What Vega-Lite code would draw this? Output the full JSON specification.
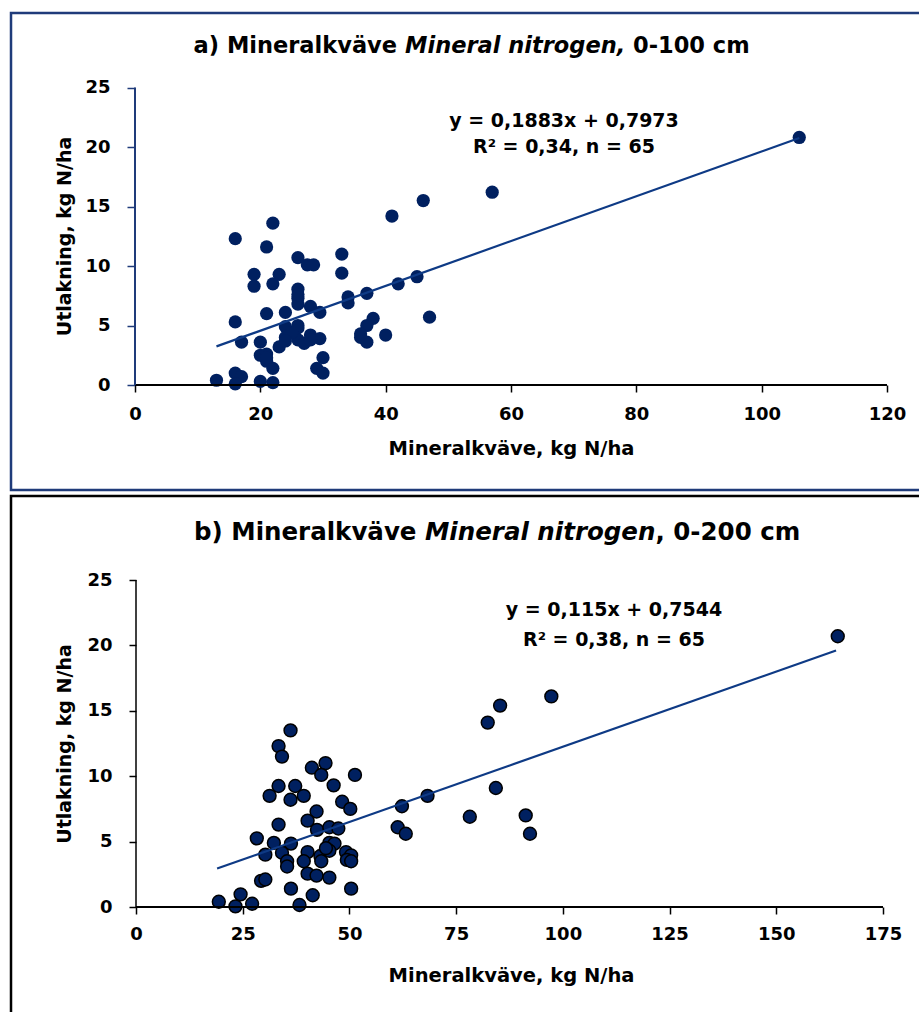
{
  "$schema": "https://vega.github.io/schema/vega-lite/v6.json",
  "background": "white",
  "padding": {"left": 9, "top": 11, "right": 0, "bottom": 0},
  "spacing": 2,
  "config": {
    "font": "DejaVu Sans",
    "axis": {"grid": false, "labelFont": "DejaVu Sans", "labelFontWeight": "bold", "labelColor": "#000000", "titleFont": "DejaVu Sans", "titleFontWeight": "bold", "titleColor": "#000000", "labelFlush": false, "labelOverlap": false}
  },
  "datasets": {
    "pa": [
      {"x": 106, "y": 20.8}, {"x": 57, "y": 16.2}, {"x": 46, "y": 15.5}, {"x": 41, "y": 14.2}, {"x": 22, "y": 13.6},
      {"x": 16, "y": 12.3}, {"x": 21, "y": 11.6}, {"x": 33, "y": 11.0}, {"x": 26, "y": 10.7}, {"x": 27.5, "y": 10.1},
      {"x": 28.5, "y": 10.1}, {"x": 19, "y": 9.3}, {"x": 23, "y": 9.3}, {"x": 33, "y": 9.4}, {"x": 45, "y": 9.1},
      {"x": 19, "y": 8.3}, {"x": 22, "y": 8.5}, {"x": 42, "y": 8.5}, {"x": 26, "y": 8.05}, {"x": 37, "y": 7.7},
      {"x": 34, "y": 7.4}, {"x": 26, "y": 7.3}, {"x": 34, "y": 6.9}, {"x": 26, "y": 6.8}, {"x": 28, "y": 6.6},
      {"x": 29.5, "y": 6.1}, {"x": 21, "y": 6.0}, {"x": 24, "y": 6.1}, {"x": 38, "y": 5.6}, {"x": 47, "y": 5.7},
      {"x": 16, "y": 5.3}, {"x": 24, "y": 4.9}, {"x": 26, "y": 4.8}, {"x": 37, "y": 5.0}, {"x": 36, "y": 4.0},
      {"x": 37, "y": 3.6}, {"x": 40, "y": 4.2}, {"x": 28, "y": 4.2}, {"x": 29.5, "y": 3.9}, {"x": 24, "y": 4.0},
      {"x": 26, "y": 3.8}, {"x": 27, "y": 3.5}, {"x": 23, "y": 3.2}, {"x": 17, "y": 3.6}, {"x": 20, "y": 3.6},
      {"x": 20, "y": 2.5}, {"x": 21, "y": 2.6}, {"x": 21, "y": 2.0}, {"x": 22, "y": 1.4}, {"x": 30, "y": 2.3},
      {"x": 29, "y": 1.4}, {"x": 30, "y": 1.0}, {"x": 16, "y": 1.0}, {"x": 17, "y": 0.7}, {"x": 13, "y": 0.4},
      {"x": 16, "y": 0.1}, {"x": 20, "y": 0.3}, {"x": 22, "y": 0.2}, {"x": 26, "y": 5.0}, {"x": 25, "y": 4.4},
      {"x": 28, "y": 3.8}, {"x": 36, "y": 4.3}, {"x": 26, "y": 7.6}, {"x": 21, "y": 2.3}, {"x": 24, "y": 3.7}
    ],
    "pb": [
      {"x": 36.2, "y": 13.5}, {"x": 33.4, "y": 12.3}, {"x": 34.2, "y": 11.5}, {"x": 41.2, "y": 10.65}, {"x": 44.4, "y": 11.0},
      {"x": 43.4, "y": 10.1}, {"x": 51.3, "y": 10.1}, {"x": 46.3, "y": 9.3}, {"x": 33.4, "y": 9.25}, {"x": 37.3, "y": 9.25},
      {"x": 31.3, "y": 8.5}, {"x": 36.2, "y": 8.2}, {"x": 39.3, "y": 8.5}, {"x": 48.3, "y": 8.05}, {"x": 50.2, "y": 7.5},
      {"x": 42.3, "y": 7.3}, {"x": 40.2, "y": 6.6}, {"x": 33.4, "y": 6.3}, {"x": 42.4, "y": 5.9}, {"x": 45.3, "y": 6.1},
      {"x": 47.4, "y": 6.0}, {"x": 28.3, "y": 5.25}, {"x": 32.3, "y": 4.9}, {"x": 36.3, "y": 4.85}, {"x": 45.3, "y": 4.9},
      {"x": 46.5, "y": 4.85}, {"x": 30.3, "y": 4.0}, {"x": 34.2, "y": 4.15}, {"x": 35.4, "y": 3.5}, {"x": 35.4, "y": 3.1},
      {"x": 40.2, "y": 4.2}, {"x": 39.3, "y": 3.5}, {"x": 43.2, "y": 3.9}, {"x": 43.4, "y": 3.5}, {"x": 45.3, "y": 4.3},
      {"x": 49.2, "y": 4.2}, {"x": 50.4, "y": 3.95}, {"x": 49.4, "y": 3.6}, {"x": 50.4, "y": 3.5}, {"x": 29.3, "y": 2.0},
      {"x": 30.3, "y": 2.1}, {"x": 40.2, "y": 2.55}, {"x": 42.3, "y": 2.4}, {"x": 45.3, "y": 2.25}, {"x": 36.3, "y": 1.4},
      {"x": 41.4, "y": 0.9}, {"x": 50.4, "y": 1.4}, {"x": 19.4, "y": 0.4}, {"x": 24.5, "y": 0.97}, {"x": 23.3, "y": 0.05},
      {"x": 27.2, "y": 0.25}, {"x": 38.3, "y": 0.15}, {"x": 164.4, "y": 20.7}, {"x": 97.3, "y": 16.1}, {"x": 85.3, "y": 15.4},
      {"x": 82.4, "y": 14.1}, {"x": 68.3, "y": 8.5}, {"x": 62.3, "y": 7.7}, {"x": 84.3, "y": 9.1}, {"x": 78.2, "y": 6.9},
      {"x": 91.3, "y": 7.0}, {"x": 92.3, "y": 5.6}, {"x": 61.3, "y": 6.1}, {"x": 63.2, "y": 5.6}, {"x": 44.5, "y": 4.5}
    ],
    "la": [{"x": 13, "y": 3.245}, {"x": 106, "y": 20.757}],
    "lb": [{"x": 19, "y": 2.939}, {"x": 164, "y": 19.614}]
  },
  "vconcat": [
    {
      "width": 920,
      "height": 477,
      "view": {"stroke": "#1F3B7A", "strokeWidth": 2.5},
      "layer": [
        {
          "data": {"name": "pa"},
          "mark": {"type": "point", "filled": true, "shape": "circle", "size": 175, "color": "#002060", "opacity": 1},
          "encoding": {
            "x": {"field": "x", "type": "quantitative", "scale": {"domain": [-19.787, 127.022], "nice": false, "zero": false},
              "axis": {"values": [0, 20, 40, 60, 80, 100, 120], "domain": false, "offset": -105, "tickColor": "#000000", "tickSize": 7, "tickWidth": 1.5, "labelPadding": 13, "labelFontSize": 18, "title": "Mineralkväve, kg N/ha", "titleFontSize": 19.5, "titleX": 500, "titleY": 63, "titleBaseline": "middle", "titleAlign": "center"}},
            "y": {"field": "y", "type": "quantitative", "scale": {"domain": [-8.8235, 31.2605], "nice": false, "zero": false},
              "axis": {"values": [0, 5, 10, 15, 20, 25], "domain": false, "offset": -124, "tickColor": "#1F3B7A", "tickSize": 8, "tickWidth": 1.5, "labelPadding": 17, "labelFontSize": 18, "title": "Utlakning, kg N/ha", "titleFontSize": 19, "titleX": -71, "titleY": 223, "titleAngle": -90, "titleBaseline": "middle", "titleAlign": "center"}}
          }
        },
        {
          "data": {"values": [{}]},
          "mark": {"type": "rule", "color": "#000000", "strokeWidth": 2},
          "encoding": {
            "x": {"datum": 0, "type": "quantitative", "scale": {"domain": [-19.787, 127.022], "nice": false, "zero": false}},
            "x2": {"datum": 120},
            "y": {"datum": 0, "type": "quantitative", "scale": {"domain": [-8.8235, 31.2605], "nice": false, "zero": false}}
          }
        },
        {
          "data": {"values": [{}]},
          "mark": {"type": "rule", "color": "#1F3B7A", "strokeWidth": 2},
          "encoding": {
            "x": {"datum": 0, "type": "quantitative", "scale": {"domain": [-19.787, 127.022], "nice": false, "zero": false}},
            "y": {"datum": 0, "type": "quantitative", "scale": {"domain": [-8.8235, 31.2605], "nice": false, "zero": false}},
            "y2": {"datum": 25}
          }
        },
        {
          "data": {"name": "la"},
          "mark": {"type": "line", "color": "#0E3A85", "strokeWidth": 2.2},
          "encoding": {
            "x": {"field": "x", "type": "quantitative", "scale": {"domain": [-19.787, 127.022], "nice": false, "zero": false}},
            "y": {"field": "y", "type": "quantitative", "scale": {"domain": [-8.8235, 31.2605], "nice": false, "zero": false}}
          }
        },
        {
          "data": {"values": [{}]},
          "mark": {"type": "text", "text": "a) Mineralkväve", "align": "right", "baseline": "middle", "fontSize": 22.5, "fontWeight": "bold", "color": "#000000"},
          "encoding": {
            "x": {"datum": 41.81, "type": "quantitative", "scale": {"domain": [-19.787, 127.022], "nice": false, "zero": false}},
            "y": {"datum": 28.49, "type": "quantitative", "scale": {"domain": [-8.8235, 31.2605], "nice": false, "zero": false}}
          }
        },
        {
          "data": {"values": [{}]},
          "mark": {"type": "text", "text": "Mineral nitrogen,", "align": "left", "baseline": "middle", "fontSize": 22.5, "fontWeight": "bold", "fontStyle": "italic", "color": "#000000"},
          "encoding": {
            "x": {"datum": 43.09, "type": "quantitative", "scale": {"domain": [-19.787, 127.022], "nice": false, "zero": false}},
            "y": {"datum": 28.49, "type": "quantitative", "scale": {"domain": [-8.8235, 31.2605], "nice": false, "zero": false}}
          }
        },
        {
          "data": {"values": [{}]},
          "mark": {"type": "text", "text": "0-100 cm", "align": "left", "baseline": "middle", "fontSize": 22.5, "fontWeight": "bold", "color": "#000000"},
          "encoding": {
            "x": {"datum": 79.47, "type": "quantitative", "scale": {"domain": [-19.787, 127.022], "nice": false, "zero": false}},
            "y": {"datum": 28.49, "type": "quantitative", "scale": {"domain": [-8.8235, 31.2605], "nice": false, "zero": false}}
          }
        },
        {
          "data": {"values": [{}]},
          "mark": {"type": "text", "text": "y = 0,1883x + 0,7973", "align": "center", "baseline": "middle", "fontSize": 19, "fontWeight": "bold", "color": "#000000"},
          "encoding": {
            "x": {"datum": 68.46, "type": "quantitative", "scale": {"domain": [-19.787, 127.022], "nice": false, "zero": false}},
            "y": {"datum": 22.18, "type": "quantitative", "scale": {"domain": [-8.8235, 31.2605], "nice": false, "zero": false}}
          }
        },
        {
          "data": {"values": [{}]},
          "mark": {"type": "text", "text": "R² = 0,34, n = 65", "align": "center", "baseline": "middle", "fontSize": 19, "fontWeight": "bold", "color": "#000000"},
          "encoding": {
            "x": {"datum": 68.46, "type": "quantitative", "scale": {"domain": [-19.787, 127.022], "nice": false, "zero": false}},
            "y": {"datum": 20.0, "type": "quantitative", "scale": {"domain": [-8.8235, 31.2605], "nice": false, "zero": false}}
          }
        }
      ]
    },
    {
      "width": 920,
      "height": 540,
      "view": {"stroke": "#000000", "strokeWidth": 2.5},
      "layer": [
        {
          "data": {"name": "pb"},
          "mark": {"type": "point", "filled": true, "shape": "circle", "size": 165, "fill": "#002060", "stroke": "#000000", "strokeWidth": 1.5, "opacity": 1, "fillOpacity": 1, "strokeOpacity": 1},
          "encoding": {
            "x": {"field": "x", "type": "quantitative", "scale": {"domain": [-29.284, 186.245], "nice": false, "zero": false},
              "axis": {"values": [0, 25, 50, 75, 100, 125, 150, 175], "domain": false, "offset": -129, "tickColor": "#000000", "tickSize": 7, "tickWidth": 1.5, "labelPadding": 11, "labelFontSize": 18, "title": "Mineralkväve, kg N/ha", "titleFontSize": 19.5, "titleX": 500, "titleY": 68, "titleBaseline": "middle", "titleAlign": "center"}},
            "y": {"field": "y", "type": "quantitative", "scale": {"domain": [-9.862, 31.422], "nice": false, "zero": false},
              "axis": {"values": [0, 5, 10, 15, 20, 25], "domain": false, "offset": -125, "tickColor": "#000000", "tickSize": 7, "tickWidth": 1.5, "labelPadding": 17, "labelFontSize": 18, "title": "Utlakning, kg N/ha", "titleFontSize": 19, "titleX": -72, "titleY": 247.5, "titleAngle": -90, "titleBaseline": "middle", "titleAlign": "center"}}
          }
        },
        {
          "data": {"values": [{}]},
          "mark": {"type": "rule", "color": "#000000", "strokeWidth": 2},
          "encoding": {
            "x": {"datum": 0, "type": "quantitative", "scale": {"domain": [-29.284, 186.245], "nice": false, "zero": false}},
            "x2": {"datum": 175},
            "y": {"datum": 0, "type": "quantitative", "scale": {"domain": [-9.862, 31.422], "nice": false, "zero": false}}
          }
        },
        {
          "data": {"values": [{}]},
          "mark": {"type": "rule", "color": "#000000", "strokeWidth": 1.5},
          "encoding": {
            "x": {"datum": 0, "type": "quantitative", "scale": {"domain": [-29.284, 186.245], "nice": false, "zero": false}},
            "y": {"datum": 0, "type": "quantitative", "scale": {"domain": [-9.862, 31.422], "nice": false, "zero": false}},
            "y2": {"datum": 25}
          }
        },
        {
          "data": {"name": "lb"},
          "mark": {"type": "line", "color": "#0E3A85", "strokeWidth": 2.2},
          "encoding": {
            "x": {"field": "x", "type": "quantitative", "scale": {"domain": [-29.284, 186.245], "nice": false, "zero": false}},
            "y": {"field": "y", "type": "quantitative", "scale": {"domain": [-9.862, 31.422], "nice": false, "zero": false}}
          }
        },
        {
          "data": {"values": [{}]},
          "mark": {"type": "text", "text": "b) Mineralkväve", "align": "right", "baseline": "middle", "fontSize": 24.5, "fontWeight": "bold", "color": "#000000"},
          "encoding": {
            "x": {"datum": 65.71, "type": "quantitative", "scale": {"domain": [-29.284, 186.245], "nice": false, "zero": false}},
            "y": {"datum": 28.59, "type": "quantitative", "scale": {"domain": [-9.862, 31.422], "nice": false, "zero": false}}
          }
        },
        {
          "data": {"values": [{}]},
          "mark": {"type": "text", "text": "Mineral nitrogen", "align": "left", "baseline": "middle", "fontSize": 24.5, "fontWeight": "bold", "fontStyle": "italic", "color": "#000000"},
          "encoding": {
            "x": {"datum": 67.7, "type": "quantitative", "scale": {"domain": [-29.284, 186.245], "nice": false, "zero": false}},
            "y": {"datum": 28.59, "type": "quantitative", "scale": {"domain": [-9.862, 31.422], "nice": false, "zero": false}}
          }
        },
        {
          "data": {"values": [{}]},
          "mark": {"type": "text", "text": ", 0-200 cm", "align": "left", "baseline": "middle", "fontSize": 24.5, "fontWeight": "bold", "color": "#000000"},
          "encoding": {
            "x": {"datum": 121.7, "type": "quantitative", "scale": {"domain": [-29.284, 186.245], "nice": false, "zero": false}},
            "y": {"datum": 28.59, "type": "quantitative", "scale": {"domain": [-9.862, 31.422], "nice": false, "zero": false}}
          }
        },
        {
          "data": {"values": [{}]},
          "mark": {"type": "text", "text": "y = 0,115x + 0,7544", "align": "center", "baseline": "middle", "fontSize": 19, "fontWeight": "bold", "color": "#000000"},
          "encoding": {
            "x": {"datum": 111.98, "type": "quantitative", "scale": {"domain": [-29.284, 186.245], "nice": false, "zero": false}},
            "y": {"datum": 22.71, "type": "quantitative", "scale": {"domain": [-9.862, 31.422], "nice": false, "zero": false}}
          }
        },
        {
          "data": {"values": [{}]},
          "mark": {"type": "text", "text": "R² = 0,38,  n =  65", "align": "center", "baseline": "middle", "fontSize": 19, "fontWeight": "bold", "color": "#000000"},
          "encoding": {
            "x": {"datum": 111.98, "type": "quantitative", "scale": {"domain": [-29.284, 186.245], "nice": false, "zero": false}},
            "y": {"datum": 20.41, "type": "quantitative", "scale": {"domain": [-9.862, 31.422], "nice": false, "zero": false}}
          }
        }
      ]
    }
  ]
}
